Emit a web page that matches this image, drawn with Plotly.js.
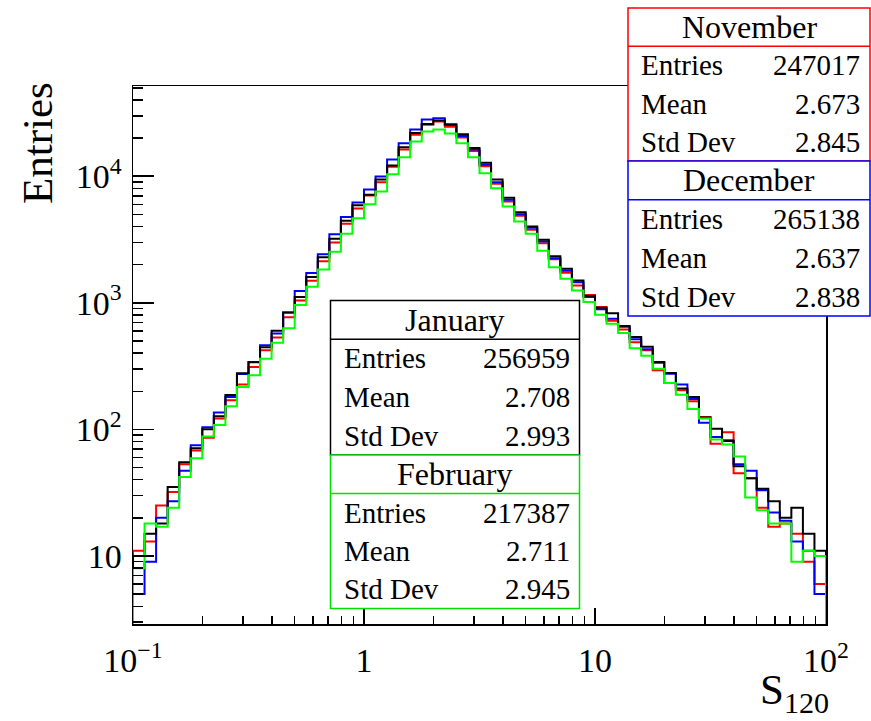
<!DOCTYPE html>
<html>
<head>
<meta charset="utf-8">
<script src="https://cdn.plot.ly/plotly-3.0.1.min.js"></script>
<style>
  html, body { margin: 0; padding: 0; background: #ffffff; }
  #chart { width: 871px; height: 721px; }
</style>
</head>
<body>
<div id="chart"></div>
<script>
// Histogram binning: 60 logarithmic bins between 0.1 and 100
const binLow = 0.1;
const binHigh = 100;
const nBins = 60;

// Bin contents per month
const november = [11, 13, 25, 32, 53, 68, 86, 122, 170, 226, 311, 421, 533, 767, 1045, 1494, 2133, 2998, 4210, 5560,
  7040, 8970, 11860, 16250, 21230, 25470, 27040, 24660, 20190, 15860, 11990, 8710, 6310, 4870, 3776, 2960, 2213, 1728, 1372, 1151,
  925, 720, 614, 487, 421, 293, 232, 204, 167, 125, 77, 95, 45, 41, 24, 17, 18, 15, 9, 6];
const december = [5, 9, 20, 27, 47, 75, 104, 136, 180, 274, 340, 461, 573, 840, 1237, 1722, 2419, 3485, 4764, 6202,
  7852, 9945, 13550, 18200, 23370, 28020, 28700, 25350, 20840, 16250, 12300, 8970, 6515, 5010, 3914, 3053, 2253, 1792, 1456, 1109,
  890, 749, 646, 514, 430, 336, 275, 226, 174, 113, 87, 82, 53, 47, 33, 22, 19, 13, 11, 5];
const january = [10, 15, 18, 35, 55, 71, 100, 127, 187, 277, 339, 445, 600, 840, 1113, 1596, 2294, 3206, 4446, 5893,
  7145, 9420, 12150, 16940, 22000, 25920, 27520, 25700, 21430, 16750, 12760, 9420, 6755, 5200, 4010, 3148, 2333, 1858, 1503, 1130,
  915, 825, 657, 536, 450, 340, 279, 210, 180, 124, 101, 81, 51, 41, 34, 27, 20, 24, 15, 11];
const february = [8, 18, 17, 24, 42, 59, 88, 108, 152, 216, 267, 362, 483, 630, 959, 1340, 1835, 2535, 3511, 4662,
  6012, 7570, 10370, 14130, 18790, 22540, 23440, 21730, 18200, 14130, 10560, 8040, 5766, 4390, 3511, 2577, 1913, 1549, 1253, 1013,
  805, 682, 577, 437, 381, 301, 232, 188, 145, 122, 83, 76, 61, 29, 23, 18, 18, 9, 11, 10];

// Statistics boxes
const statNames = ['November', 'December', 'January', 'February'];
const statEntries = ['247017', '265138', '256959', '217387'];
const statMeans = ['2.673', '2.637', '2.708', '2.711'];
const statStdDevs = ['2.845', '2.838', '2.993', '2.945'];
const statLabels = ['Entries', 'Mean', 'Std Dev'];

// Axis tick labels
const xTickVals = [0.1, 1, 10, 100];
const xTickText = ['10<sup>\u22121</sup>', '1', '10', '10<sup>2</sup>'];
const yTickVals = [10, 100, 1000, 10000];
const yTickText = ['10', '10<sup>2</sup>', '10<sup>3</sup>', '10<sup>4</sup>'];

const FONT = 'Liberation Serif, Times New Roman, serif';
const yRange = [0.462, 4.713];
const floorValue = Math.pow(10, yRange[0] - 1);

const edges = Array.from({ length: nBins + 1 }, (_, i) => binLow * Math.pow(binHigh / binLow, i / nBins));

function stepTrace(counts, color) {
  const x = [edges[0]];
  const y = [floorValue];
  counts.forEach((c, i) => { x.push(edges[i]); y.push(c); });
  x.push(edges[nBins]); y.push(counts[nBins - 1]);
  x.push(edges[nBins]); y.push(floorValue);
  return {
    type: 'scatter', mode: 'lines', x: x, y: y,
    line: { shape: 'hv', color: color, width: 2 },
    hoverinfo: 'skip', showlegend: false
  };
}

function minorTicks(fromExp, toExp, lo, hi) {
  const out = [];
  for (let e = fromExp; e <= toExp; e++) {
    for (let m = 2; m <= 9; m++) {
      const v = m * Math.pow(10, e);
      if (v > lo && v < hi) out.push(v);
    }
  }
  return out;
}

const traces = [
  stepTrace(november, '#ff0000'),
  stepTrace(december, '#0000ff'),
  stepTrace(january, '#000000'),
  stepTrace(february, '#00ff00')
];

// Plot area in pixels
const W = 871, H = 721;
const M = { l: 133, r: 45, t: 86, b: 97 };
const plotW = W - M.l - M.r, plotH = H - M.t - M.b;
const px = p => (p - M.l) / plotW;
const py = p => (H - M.b - p) / plotH;

// Stats box frames (pixel bounds: left, right, top, bottom)
const boxColors = ['#ff0000', '#0000ff', '#000000', '#00e000'];
const boxes = [
  { l: 628, r: 870, t: 8, b: 161 },
  { l: 628, r: 870, t: 161, b: 316 },
  { l: 330.5, r: 579.5, t: 300.5, b: 455 },
  { l: 330.5, r: 579.5, t: 455, b: 608.5 }
];

const shapes = [];
const annotations = [];
boxes.forEach((bx, k) => {
  const rowH = (bx.b - bx.t) / 4;
  shapes.push({
    type: 'rect', xref: 'paper', yref: 'paper', layer: 'above',
    x0: px(bx.l), x1: px(bx.r), y0: py(bx.b), y1: py(bx.t),
    line: { color: boxColors[k], width: 1.5 }, fillcolor: '#ffffff'
  });
  shapes.push({
    type: 'line', xref: 'paper', yref: 'paper', layer: 'above',
    x0: px(bx.l), x1: px(bx.r), y0: py(bx.t + rowH), y1: py(bx.t + rowH),
    line: { color: boxColors[k], width: 1.5 }
  });
  annotations.push({
    xref: 'paper', yref: 'paper', x: px((bx.l + bx.r) / 2), y: py(bx.t + rowH * 0.5),
    xanchor: 'center', yanchor: 'middle', showarrow: false,
    text: statNames[k], font: { family: FONT, size: 32, color: '#000' }
  });
  const vals = [statEntries[k], statMeans[k], statStdDevs[k]];
  statLabels.forEach((lab, j) => {
    const yc = py(bx.t + rowH * (j + 1.5));
    annotations.push({
      xref: 'paper', yref: 'paper', x: px(bx.l + 11), y: yc,
      xanchor: 'left', yanchor: 'middle', showarrow: false,
      text: lab, font: { family: FONT, size: 29, color: '#000' }
    });
    annotations.push({
      xref: 'paper', yref: 'paper', x: px(bx.r - 8), y: yc,
      xanchor: 'right', yanchor: 'middle', showarrow: false,
      text: vals[j], font: { family: FONT, size: 29, color: '#000' }
    });
  });
});

// Axis titles
annotations.push({
  xref: 'paper', yref: 'paper', x: px(37), y: py(80),
  xanchor: 'center', yanchor: 'top', showarrow: false, textangle: -90,
  text: 'Entries', font: { family: FONT, size: 43, color: '#000' }
});
annotations.push({
  xref: 'paper', yref: 'paper', x: px(831), y: py(722),
  xanchor: 'right', yanchor: 'bottom', showarrow: false,
  text: 'S<sub>120</sub>', font: { family: FONT, size: 43, color: '#000' }
});

const layout = {
  width: W, height: H,
  margin: M,
  paper_bgcolor: '#ffffff', plot_bgcolor: '#ffffff',
  font: { family: FONT, color: '#000' },
  xaxis: {
    type: 'log', range: [Math.log10(binLow), Math.log10(binHigh)],
    showgrid: false, zeroline: false,
    showline: true, mirror: true, linecolor: '#000', linewidth: 1.5,
    ticks: 'inside', ticklen: 16, tickwidth: 1.5, tickcolor: '#000',
    tickmode: 'array', tickvals: xTickVals, ticktext: xTickText,
    tickfont: { family: FONT, size: 34, color: '#000' },
    ticklabelstandoff: 6,
    minor: { ticks: 'inside', ticklen: 8, tickwidth: 1.5, tickcolor: '#000', showgrid: false,
             tickmode: 'array', tickvals: minorTicks(-1, 1, binLow, binHigh) }
  },
  yaxis: {
    type: 'log', range: yRange,
    showgrid: false, zeroline: false,
    showline: true, mirror: true, linecolor: '#000', linewidth: 1.5,
    ticks: 'inside', ticklen: 21, tickwidth: 1.5, tickcolor: '#000',
    tickmode: 'array', tickvals: yTickVals, ticktext: yTickText,
    tickfont: { family: FONT, size: 34, color: '#000' },
    ticklabelstandoff: 3,
    minor: { ticks: 'inside', ticklen: 10, tickwidth: 1.5, tickcolor: '#000', showgrid: false,
             tickmode: 'array', tickvals: minorTicks(0, 4, Math.pow(10, yRange[0]), Math.pow(10, yRange[1])) }
  },
  shapes: shapes,
  annotations: annotations,
  showlegend: false
};

Plotly.newPlot('chart', traces, layout, { displayModeBar: false, staticPlot: true });
</script>
</body>
</html>
